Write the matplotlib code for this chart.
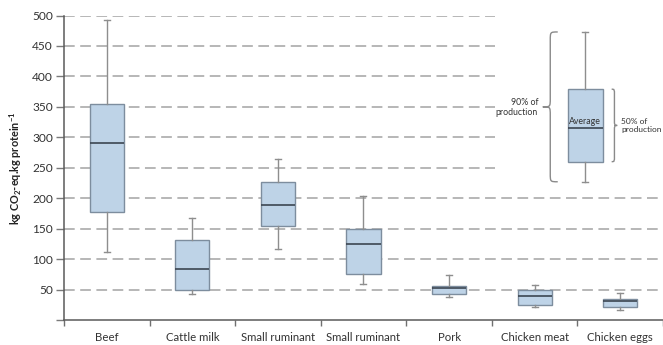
import matplotlib
matplotlib.use("Agg")
import matplotlib.pyplot as plt
from matplotlib.path import Path
from matplotlib.patches import PathPatch, Rectangle

plt.rcParams['font.family'] = ['Lato', 'DejaVu Sans']
plt.rcParams['mathtext.fontset'] = 'custom'
plt.rcParams['mathtext.rm'] = 'Lato:bold'
plt.rcParams['mathtext.bf'] = 'Lato:bold'

categories = ["Beef", "Cattle milk", "Small ruminant", "Small ruminant", "Pork",
              "Chicken meat", "Chicken eggs"]
whisker_low = [111, 43, 117, 59, 38, 21, 17]
q1 = [177, 50, 154, 75, 43, 24.5, 21]
median = [291, 84, 189, 124, 52, 40, 30.5]
q3 = [355, 132, 226, 150, 55, 49, 34.5]
whisker_high = [492, 167, 265, 203, 73.5, 58, 45]

# Legend example box
legend_stats = dict(whislo=227, q1=260, med=316, q3=379, whishi=473)
legend_pos = 5.59

yticks = [0, 50, 100, 150, 200, 250, 300, 350, 400, 450, 500]

fig = plt.figure(figsize=(6.63, 3.45), dpi=100)
ax = fig.add_axes([0.0965, 0.0725, 0.9035, 0.8825])

box_face = '#bed3e7'
box_edge = '#7d8d9e'
whisk_col = '#8e8e8e'
med_col = '#3c4652'
grid_col = '#a3a3a3'
txt_col = '#333333'

# Grid lines
for yv in yticks[1:]:
    ax.axhline(yv, color=grid_col, lw=1.1, dashes=(7, 3.6), zorder=0.5)

# White cover behind the legend example
ax.add_patch(Rectangle((4.535, 212), 2.2, 300, facecolor='white', edgecolor='none',
                       zorder=0.8, clip_on=False))

stats = []
for i, c in enumerate(categories):
    stats.append(dict(label=c, whislo=whisker_low[i], q1=q1[i], med=median[i],
                      q3=q3[i], whishi=whisker_high[i], fliers=[]))

props = dict(
    patch_artist=True,
    showfliers=False,
    boxprops=dict(facecolor=box_face, edgecolor=box_edge, linewidth=1.0),
    medianprops=dict(color=med_col, linewidth=1.2),
    whiskerprops=dict(color=whisk_col, linewidth=1.0),
    capprops=dict(color=whisk_col, linewidth=1.0),
    manage_ticks=False,
    zorder=2,
)
ax.bxp(stats, positions=list(range(len(categories))), widths=0.4, capwidths=0.07, **props)

lstat = dict(legend_stats)
lstat['fliers'] = []
ax.bxp([lstat], positions=[legend_pos], widths=0.41, capwidths=0.07, **props)

ax.text(legend_pos, legend_stats['med'] + 2, "Average", ha='center', va='bottom',
        fontsize=6.3, color=txt_col, zorder=3)


def brace(ax, x_tip, x_end, y0, y1, ry=12, **kw):
    xm = (x_tip + x_end) / 2.0
    ymid = (y0 + y1) / 2.0
    verts = [
        (x_end, y0),
        (xm, y0), (xm, y0), (xm, y0 + ry),
        (xm, ymid - ry),
        (xm, ymid), (xm, ymid), (x_tip, ymid),
        (xm, ymid), (xm, ymid), (xm, ymid + ry),
        (xm, y1 - ry),
        (xm, y1), (xm, y1), (x_end, y1),
    ]
    codes = [Path.MOVETO,
             Path.CURVE4, Path.CURVE4, Path.CURVE4,
             Path.LINETO,
             Path.CURVE4, Path.CURVE4, Path.CURVE4,
             Path.CURVE4, Path.CURVE4, Path.CURVE4,
             Path.LINETO,
             Path.CURVE4, Path.CURVE4, Path.CURVE4]
    ax.add_patch(PathPatch(Path(verts, codes), facecolor='none', **kw))


brace(ax, 5.095, 5.27, 227, 473, ry=14, edgecolor='#8a8a8a', lw=1.0, zorder=3)
brace(ax, 5.965, 5.90, 260, 379, ry=10, edgecolor='#8a8a8a', lw=1.0, zorder=3)

ax.text(5.04, 349, "90% of\nproduction", ha='right', va='center', fontsize=6.3,
        color=txt_col, linespacing=1.2, zorder=3)
ax.text(6.01, 319, "50% of\nproduction", ha='left', va='center', fontsize=6.0,
        color=txt_col, linespacing=1.2, zorder=3, clip_on=False)

ax.set_xlim(-0.5, 6.5)
ax.set_ylim(0, 500)

ax.set_yticks(yticks)
ax.set_yticklabels([""] + [str(v) for v in yticks[1:]])
ax.set_xticks(range(len(categories)))
ax.set_xticklabels(categories)
ax.set_xticks([i - 0.5 for i in range(len(categories) + 1)], minor=True)

ax.tick_params(axis='x', which='major', length=0, pad=9, labelsize=8.2, colors=txt_col)
ax.tick_params(axis='x', which='minor', length=4, width=1.0, color='#707070', direction='out')
ax.tick_params(axis='y', which='major', length=6, width=1.0, color='#7a7a7a',
               labelsize=8.6, labelcolor=txt_col, pad=2)

for s in ['top', 'right']:
    ax.spines[s].set_visible(False)
for s in ['left', 'bottom']:
    ax.spines[s].set_color('#5a5a5a')
    ax.spines[s].set_linewidth(1.1)

ax.set_ylabel("kg CO$_2$-eq.kg protein$^{-1}$", fontsize=7.8, fontweight='bold',
              color='#222222', labelpad=6)

fig.savefig("out.png", dpi=100)
